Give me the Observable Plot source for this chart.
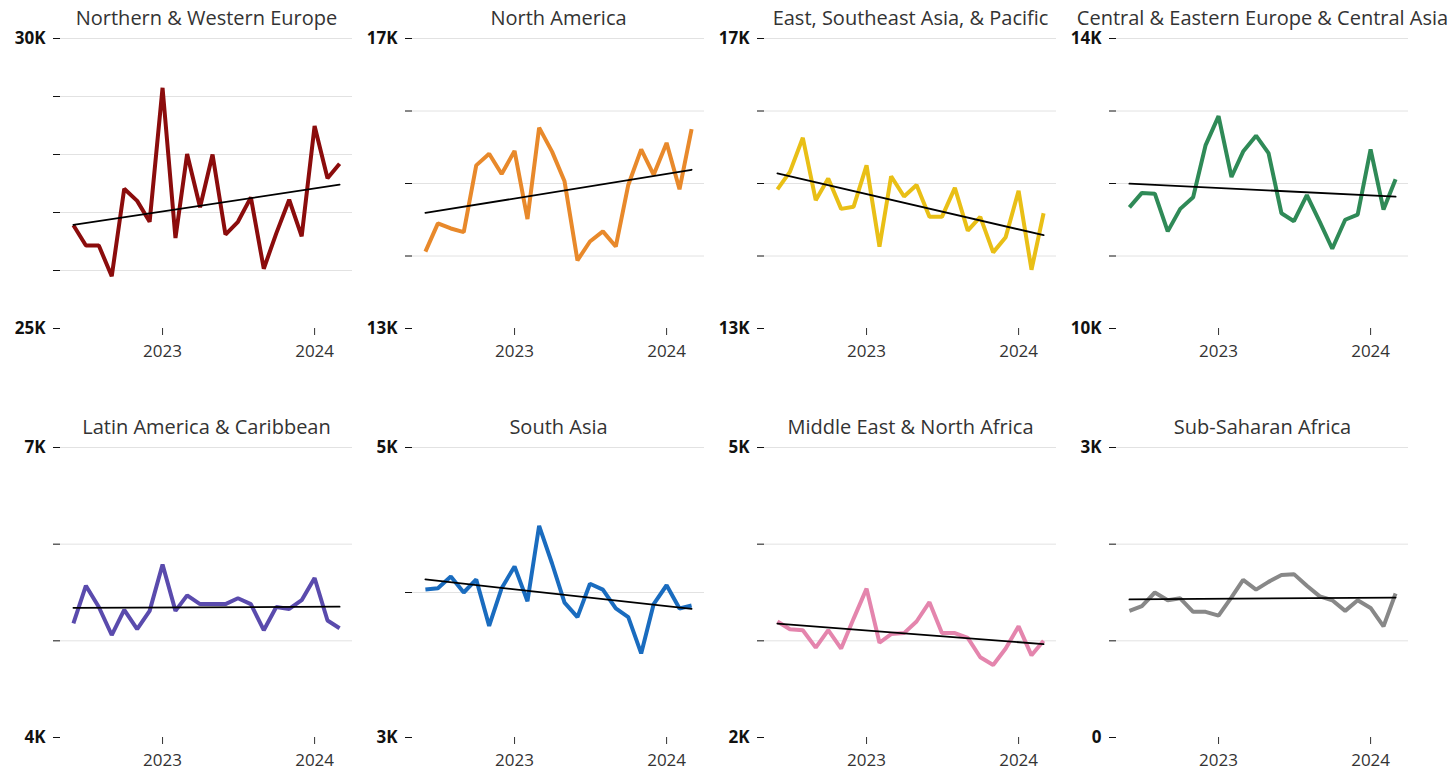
<!DOCTYPE html>
<html>
<head>
<meta charset="utf-8">
<script src="https://cdn.jsdelivr.net/npm/d3@7"></script>
<script src="https://cdn.jsdelivr.net/npm/@observablehq/plot@0.6"></script>
<style>
  html, body { margin: 0; padding: 0; background: #fff; overflow: hidden; }
  #wrap { position: relative; width: 1452px; height: 768px; overflow: hidden; }
  .panel { position: absolute; }
  .panel svg { font-family: "Open Sans", "DejaVu Sans", sans-serif; overflow: visible; }
</style>
</head>
<body>
<div id="wrap"></div>
<script>
// Months: Jun 2022 .. Mar 2024
const months = ["2022-06","2022-07","2022-08","2022-09","2022-10","2022-11","2022-12",
  "2023-01","2023-02","2023-03","2023-04","2023-05","2023-06","2023-07","2023-08","2023-09","2023-10","2023-11","2023-12",
  "2024-01","2024-02","2024-03"];

const regions = ["Northern & Western Europe","North America","East, Southeast Asia, & Pacific","Central & Eastern Europe & Central Asia",
  "Latin America & Caribbean","South Asia","Middle East & North Africa","Sub-Saharan Africa"];

const colors = ["#8b0c0c","#e8892b","#e9bf16","#2f8a57","#5a4bad","#1a6cbf","#e485ad","#888888"];

const yDomains = [[25000,30000],[13000,17000],[13000,17000],[10000,14000],[4000,7000],[3000,5000],[2000,5000],[0,3000]];

const northernWesternEurope = [26780,26430,26430,25900,27410,27200,26840,29150,26560,28010,27090,28000,26620,26840,27260,26030,26640,27220,26590,28490,27590,27840];
const northAmerica = [14060,14450,14380,14330,15250,15410,15130,15450,14510,15770,15440,15030,13940,14200,14340,14130,14980,15470,15120,15560,14920,15750];
const eastAsiaPacific = [14920,15160,15630,14770,15070,14650,14680,15250,14130,15100,14820,14980,14540,14540,14940,14350,14540,14050,14260,14900,13810,14590];
const centralEasternEurope = [11670,11870,11860,11340,11650,11810,12530,12930,12090,12440,12660,12420,11590,11480,11840,11470,11100,11500,11570,12470,11640,12060];
const latinAmerica = [5180,5570,5350,5060,5320,5120,5310,5790,5310,5470,5380,5380,5380,5440,5380,5110,5350,5330,5420,5650,5210,5130];
const southAsia = [4020,4030,4110,4000,4090,3770,4030,4180,3940,4460,4200,3930,3830,4060,4020,3890,3830,3580,3920,4050,3890,3910];
const middleEastNorthAfrica = [3200,3120,3110,2930,3110,2920,3230,3540,2980,3070,3080,3200,3400,3080,3080,3030,2830,2750,2920,3150,2850,3000];
const subSaharanAfrica = [1310,1360,1500,1420,1440,1300,1300,1260,1450,1630,1530,1610,1680,1690,1570,1460,1420,1310,1420,1340,1150,1490];

const series = [northernWesternEurope, northAmerica, eastAsiaPacific, centralEasternEurope,
  latinAmerica, southAsia, middleEastNorthAfrica, subSaharanAfrica];

const xTicks = ["2023-01","2024-01"];

const parse = d3.utcParse("%Y-%m");
const fmtK = d => d === 0 ? "0" : (d / 1000) + "K";

const wrap = document.getElementById("wrap");

regions.forEach((name, i) => {
  const data = months.map((m, j) => ({date: parse(m), value: series[i][j]}));
  const [lo, hi] = yDomains[i];
  const ticks = d3.range(lo, hi + 1, 1000);
  const chart = Plot.plot({
    width: 352,
    height: 370,
    marginTop: 38,
    marginBottom: 42,
    marginLeft: 60,
    marginRight: 0,
    style: {fontFamily: '"Open Sans", "DejaVu Sans", sans-serif', background: "transparent", overflow: "visible"},
    x: {type: "utc", domain: [parse("2022-05"), parse("2024-04")], label: null},
    y: {domain: [lo, hi], label: null},
    marks: [
      Plot.ruleY(ticks.filter(t => t !== lo), {stroke: "#e2e2e2", strokeWidth: 1}),
      Plot.axisY({ticks, label: null, tickSize: 7, tickPadding: 8, fontSize: 17, fontWeight: "bold", fill: "#111", stroke: "#111",
        tickFormat: d => (d === lo || d === hi) ? fmtK(d) : ""}),
      Plot.axisX({ticks: xTicks.map(parse), label: null, tickSize: 7, tickPadding: 9, fontSize: 17, fill: "#333", stroke: "#333",
        tickFormat: d3.utcFormat("%Y")}),
      Plot.lineY(data, {x: "date", y: "value", stroke: colors[i], strokeWidth: 4, strokeLinejoin: "miter", strokeLinecap: "butt"}),
      Plot.linearRegressionY(data, {x: "date", y: "value", stroke: "#000", strokeWidth: 1.8, ci: 0}),
      Plot.text([name], {frameAnchor: "top", lineAnchor: "middle", dy: -20, fontSize: 20, fill: "#333"})
    ]
  });
  const div = document.createElement("div");
  div.className = "panel";
  div.style.left = (i % 4) * 352 + "px";
  div.style.top = Math.floor(i / 4) * 409 + "px";
  div.appendChild(chart);
  wrap.appendChild(div);
});
</script>
</body>
</html>
